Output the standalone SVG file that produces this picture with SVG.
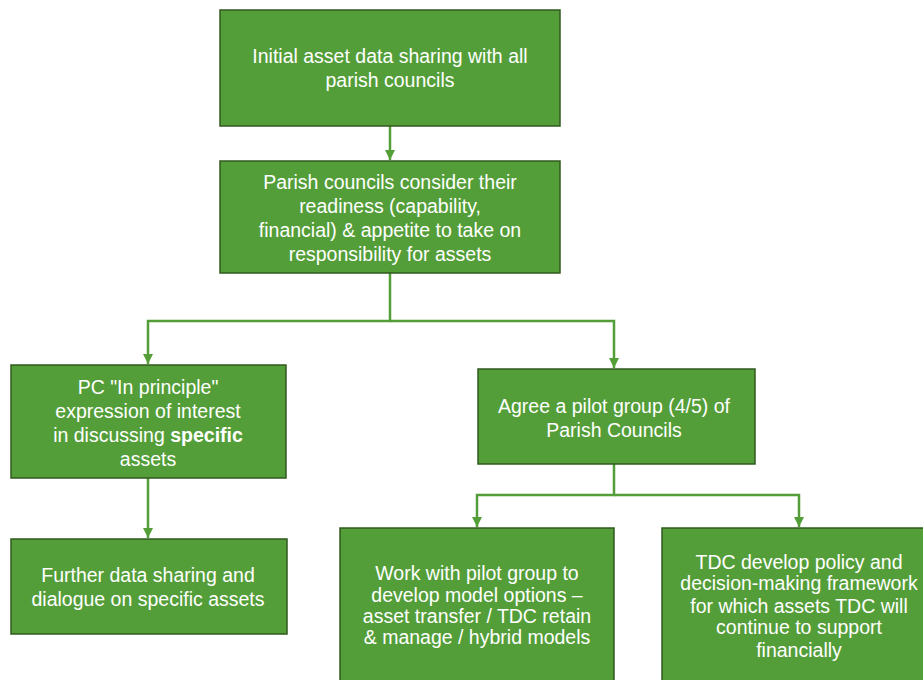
<svg xmlns="http://www.w3.org/2000/svg" width="923" height="680" viewBox="0 0 923 680">
<defs>
<style>
.box{fill:#549E39;stroke:#30591F;stroke-width:1.5}
.t{font-family:"Liberation Sans",Arial,sans-serif;font-size:19.5px;fill:#fff;text-anchor:middle}
.c{fill:none;stroke:#549E39;stroke-width:2.5}
</style>
<marker id="ah" viewBox="0 0 10 10" refX="10" refY="5" markerWidth="4" markerHeight="4" orient="auto" markerUnits="strokeWidth">
<path d="M0,0 L10,5 L0,10 z" fill="#549E39"/>
</marker>
</defs>
<rect width="923" height="680" fill="#fff"/>
<g id="connectors">
<path class="c" d="M390,126 V160" marker-end="url(#ah)"/>
<path class="c" d="M390,273 V321 H148 V364" marker-end="url(#ah)"/>
<path class="c" d="M390,321 H614 V368" marker-end="url(#ah)"/>
<path class="c" d="M148,478 V538" marker-end="url(#ah)"/>
<path class="c" d="M614,464 V495 H477 V527" marker-end="url(#ah)"/>
<path class="c" d="M614,495 H799 V527" marker-end="url(#ah)"/>
</g>
<g id="n1">
<rect class="box" x="220" y="10" width="340" height="116"/>
<text class="t" x="390" y="63">Initial asset data sharing with all</text>
<text class="t" x="390" y="87">parish councils</text>
</g>
<g id="n2">
<rect class="box" x="220" y="161" width="340" height="112"/>
<text class="t" x="390" y="189">Parish councils consider their</text>
<text class="t" x="390" y="213">readiness (capability,</text>
<text class="t" x="390" y="237">financial) &amp; appetite to take on</text>
<text class="t" x="390" y="261">responsibility for assets</text>
</g>
<g id="n3">
<rect class="box" x="11" y="365" width="275" height="113"/>
<text class="t" x="148" y="394">PC "In principle"</text>
<text class="t" x="148" y="418">expression of interest</text>
<text class="t" x="148" y="442">in discussing <tspan font-weight="bold">specific</tspan></text>
<text class="t" x="148" y="466">assets</text>
</g>
<g id="n4">
<rect class="box" x="478" y="369" width="277" height="95"/>
<text class="t" x="614" y="413">Agree a pilot group (4/5) of</text>
<text class="t" x="614" y="437">Parish Councils</text>
</g>
<g id="n5">
<rect class="box" x="11" y="539" width="276" height="95"/>
<text class="t" x="148" y="582">Further data sharing and</text>
<text class="t" x="148" y="606">dialogue on specific assets</text>
</g>
<g id="n6">
<rect class="box" x="340" y="528" width="274" height="160"/>
<text class="t" x="477" y="580">Work with pilot group to</text>
<text class="t" x="477" y="602">develop model options –</text>
<text class="t" x="477" y="623">asset transfer / TDC retain</text>
<text class="t" x="477" y="644">&amp; manage / hybrid models</text>
</g>
<g id="n7">
<rect class="box" x="662" y="528" width="275" height="160"/>
<text class="t" x="799" y="569">TDC develop policy and</text>
<text class="t" x="799" y="590">decision-making framework</text>
<text class="t" x="799" y="613">for which assets TDC will</text>
<text class="t" x="799" y="634">continue to support</text>
<text class="t" x="799" y="657">financially</text>
</g>
</svg>
